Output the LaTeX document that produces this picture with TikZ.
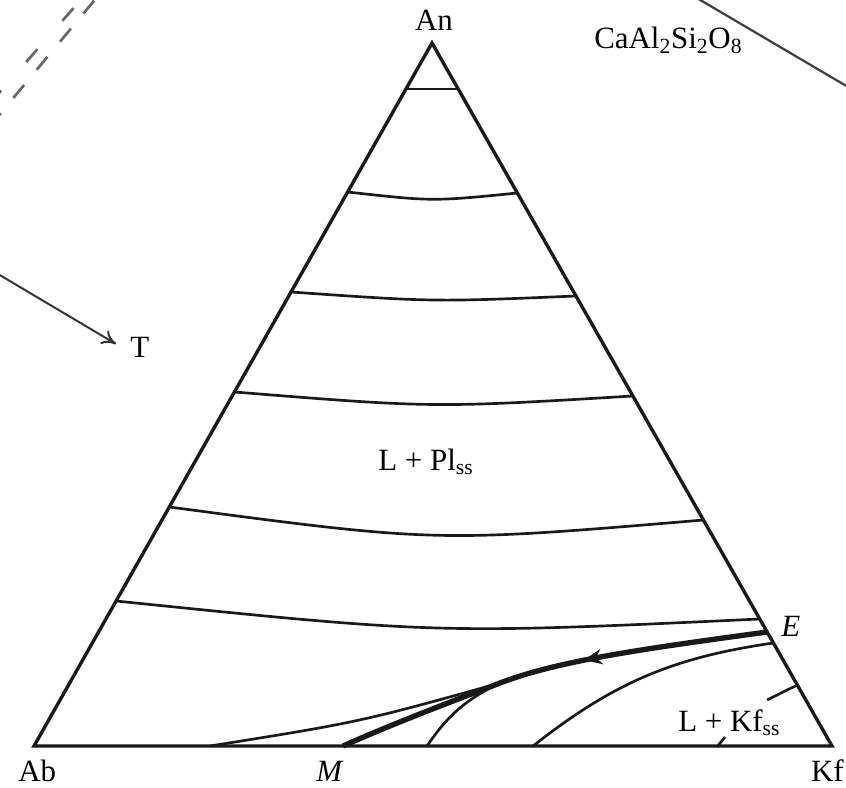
\documentclass[tikz,border=0pt]{standalone}
\usepackage{fontspec}
\setmainfont{Liberation Serif}
\usetikzlibrary{arrows.meta,calc,decorations.markings}
\tikzset{
  lbl/.style={font=\fontsize{22}{26}\selectfont, inner sep=0pt},
  side/.style={line width=2.4pt, line join=miter, black!90},
  iso/.style={line width=1.9pt, black!90},
  cot/.style={line width=3.8pt, black!90},
  ghost/.style={line width=1.9pt, black!60},
  arr/.style={-{To[length=10pt,width=11pt]}, line width=1.4pt, black!80},
}
\begin{document}
\begin{tikzpicture}[x=0.025cm, y=-0.025cm]
\useasboundingbox (0,0) rectangle (846,787);
\clip (0,0) rectangle (846,787);
% pieces of the prism outside the triangle
\draw[ghost, dash pattern=on 12 off 27] (-10,103.2) -- (80.7,0);
\draw[ghost, dash pattern=on 12 off 14] (-10,126.1) -- (94.6,0);
\draw[black!75, line width=1.6pt] (690,-6) -- (860,94);
\coordinate (t0) at (-2,274);
\coordinate (tip) at (116,344);
\draw[arr] (t0) -- (tip);
% triangle Ab-An-Kf
\coordinate (An) at (432,43);
\coordinate (Ab) at (34,746);
\coordinate (Kf) at (832,746);
\draw[side] (Ab) -- (An) -- (Kf) -- cycle;
% isotherms in the Pl field
\foreach \i/\ly/\ry/\s in {1/89/89/0.5, 2/192/193/4.5, 3/292/296/4, 4/392/396/7, 5/507/520/14.5, 6/601/619/12} {
  \coordinate (l\i) at ($(An)!{(\ly-43)/703}!(Ab)$);
  \coordinate (r\i) at ($(An)!{(\ry-43)/703}!(Kf)$);
  \draw[iso] (l\i) .. controls ($(l\i)!0.5!(r\i)+(0,2*\s)$) .. (r\i);
}
% cotectic E -> M
\coordinate (E) at ($(An)!{589/703}!(Kf)$);
\coordinate (J) at (500,683);
\coordinate (M) at (343,746);
\draw[cot, postaction={decorate}, decoration={markings,
  mark=at position 0.42 with {\arrow{Stealth[length=13pt,width=11pt]}}}]
  (E) .. controls (650,648) and (560,660) .. (J) .. controls (445,704) and (390,725) .. (M);
\coordinate (a0) at (210,746);
\coordinate (b0) at (427,746);
\coordinate (c0) at (533,746);
\coordinate (c1) at ($(An)!{600/703}!(Kf)$);
\draw[iso] (a0) .. controls (360,722) .. (J);
\draw[iso] (b0) to[bend left=15] (J);
\draw[iso] (c0) to[bend left=15] (c1);
% isotherms in the Kf field
\coordinate (k1) at ($(An)!{642/703}!(Kf)$);
\coordinate (k0) at (767,700);
\coordinate (k2) at (717,747);
\coordinate (k3) at (725,737);
\draw[iso] (k0) -- (k1);
\draw[iso] (k2) -- (k3);
% labels
\node[lbl, anchor=base] (anL) at (434,31) {An};
\node[lbl, anchor=base west] (caL) at (594,49) {CaAl\textsubscript{2}Si\textsubscript{2}O\textsubscript{8}};
\node[lbl, anchor=base west] (tL) at (130,357) {T};
\node[lbl, anchor=base west] (plL) at (378,470) {L + Pl\textsubscript{ss}};
\node[lbl, anchor=base west] (kfL) at (678,731) {L + Kf\textsubscript{ss}};
\node[lbl, anchor=base west] (eL) at (781,636) {\textit{E}};
\node[lbl, anchor=base west] (abL) at (18,781) {Ab};
\node[lbl, anchor=base west] (mL) at (316,781) {\textit{M}};
\node[lbl, anchor=base east] (kfV) at (844,781) {Kf};
\end{tikzpicture}
\end{document}
